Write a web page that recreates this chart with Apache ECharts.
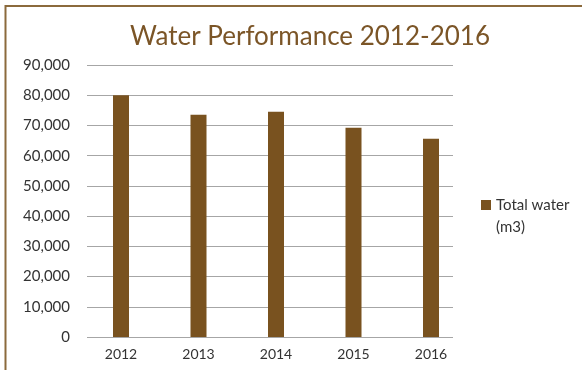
<!DOCTYPE html>
<html>
<head>
<meta charset="utf-8">
<script src="https://cdn.jsdelivr.net/npm/echarts@6/dist/echarts.min.js"></script>
<style>
  html, body { margin: 0; padding: 0; background: #ffffff; }
  #chart { width: 582px; height: 370px; }
</style>
</head>
<body>
<div id="chart"></div>
<script>
// Annual water use, cubic metres
const years = ['2012', '2013', '2014', '2015', '2016'];
const totalWater = [80000, 73500, 74500, 69200, 65600];
const seriesName = 'Total water (m3)';
const yTicks = { min: 0, max: 90000, interval: 10000 };

const BROWN = '#79521f';
const FONT = 'Lato, "Open Sans", sans-serif';

const chart = echarts.init(document.getElementById('chart'), null, { renderer: 'canvas' });

chart.setOption({
  animation: false,
  backgroundColor: '#ffffff',
  textStyle: { fontFamily: FONT },
  title: {
    text: 'Water Performance 2012-2016',
    left: 305,
    textAlign: 'center',
    top: 19,
    textStyle: { color: '#7b5527', fontSize: 26, fontWeight: 'normal', fontFamily: FONT }
  },
  graphic: [{
    type: 'rect',
    shape: { x: 5.5, y: 6, width: 700, height: 500 },
    style: { fill: 'none', stroke: '#8b6a3c', lineWidth: 2 },
    silent: true,
    z: 100
  }],
  legend: {
    left: 476,
    top: 167,
    orient: 'vertical',
    icon: 'rect',
    itemWidth: 10,
    itemHeight: 10,
    itemGap: 7,
    // leading blank line keeps the first text line level with the swatch
    formatter: () => ' \nTotal water\n(m3)',
    textStyle: {
      color: '#333333', fontSize: 15, lineHeight: 22, fontFamily: FONT
    },
    data: [seriesName]
  },
  grid: [
    // axis labels + gridlines
    { left: 87, right: 129, top: 65, bottom: 33 },
    // bars
    { left: 82.25, right: 112.25, top: 65, bottom: 33 }
  ],
  xAxis: [
    {
      type: 'category', gridIndex: 0, data: years,
      axisLine: { show: false }, axisTick: { show: false }, axisLabel: { show: false }
    },
    {
      type: 'category', gridIndex: 1, data: years,
      axisLine: { show: false }, axisTick: { show: false },
      axisLabel: { color: '#333333', fontSize: 14, margin: 10, fontFamily: FONT }
    }
  ],
  yAxis: [
    {
      type: 'value', gridIndex: 0,
      min: yTicks.min, max: yTicks.max, interval: yTicks.interval,
      axisLine: { show: false }, axisTick: { show: false },
      axisLabel: {
        color: '#333333', fontSize: 15, margin: 17, fontFamily: FONT,
        formatter: v => v.toLocaleString('en-US')
      },
      splitLine: { lineStyle: { color: '#a6a6a6', width: 1 } }
    },
    {
      type: 'value', gridIndex: 1,
      min: yTicks.min, max: yTicks.max, interval: yTicks.interval,
      show: false, splitLine: { show: false }
    }
  ],
  series: [{
    name: seriesName,
    type: 'bar',
    xAxisIndex: 1,
    yAxisIndex: 1,
    data: totalWater,
    barWidth: 16,
    itemStyle: { color: BROWN }
  }]
});
</script>
</body>
</html>
